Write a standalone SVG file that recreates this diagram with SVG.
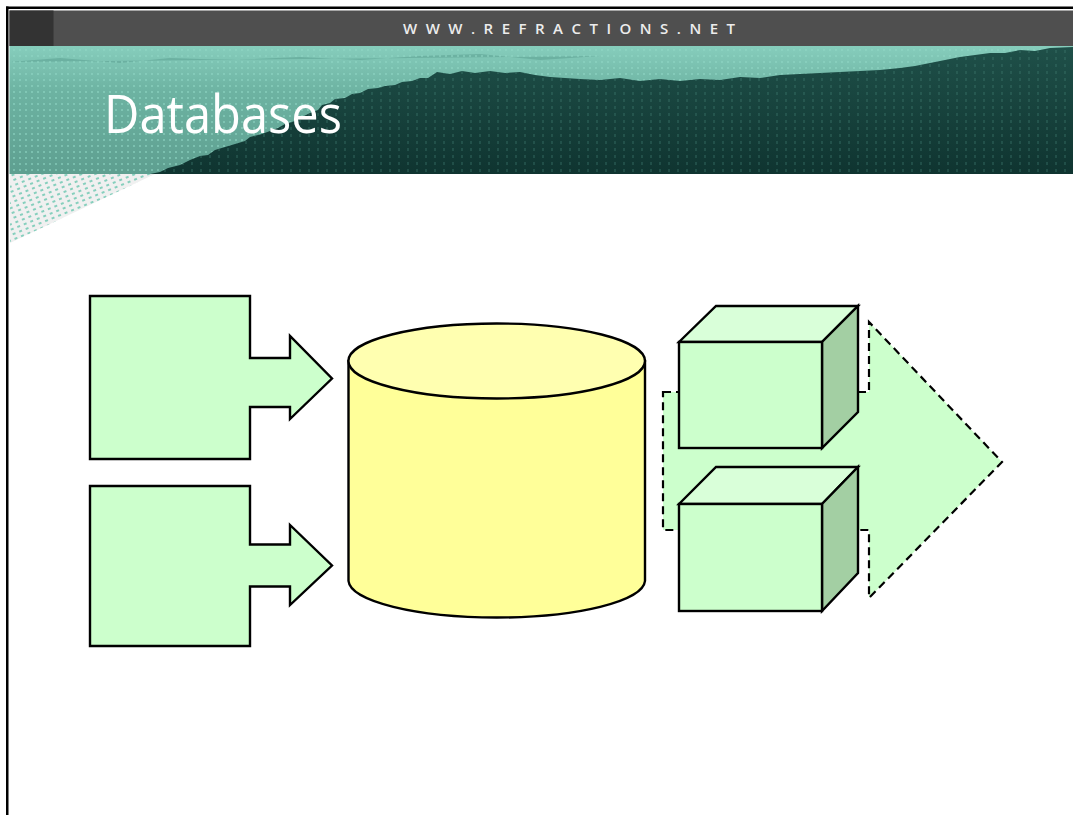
<svg xmlns="http://www.w3.org/2000/svg" width="1073" height="815" viewBox="0 0 1073 815">
<style>
.shape{stroke:#000;stroke-width:2.4;stroke-linejoin:miter}
.green{fill:#ccffcc}
.gtop{fill:#d9ffd9}
.gside{fill:#a3cfa3}
.dash{fill:#ccffcc;stroke:#000;stroke-width:2.2;stroke-dasharray:8 5}
.hdr{font-family:"Open Sans","DejaVu Sans",sans-serif;font-weight:600;fill:#ececec}
.title{font-family:"Open Sans","DejaVu Sans",sans-serif;fill:#ffffff}
</style>
<defs>
<linearGradient id="sky" x1="0" y1="0" x2="0" y2="1">
<stop offset="0" stop-color="#86cdbc"/>
<stop offset="0.35" stop-color="#6db3a2"/>
<stop offset="1" stop-color="#5e9f90"/>
</linearGradient>
<linearGradient id="forest" x1="0" y1="0" x2="0" y2="1">
<stop offset="0" stop-color="#1f5049"/>
<stop offset="1" stop-color="#0f3430"/>
</linearGradient>
<pattern id="dots" width="6" height="6" patternUnits="userSpaceOnUse">
<rect x="1" y="1" width="2" height="2" fill="#8fd6c4" opacity="0.55"/>
</pattern>
<pattern id="fdots" width="9" height="7" patternUnits="userSpaceOnUse">
<rect x="2" y="1" width="2" height="3" fill="#3f7a70" opacity="0.35"/>
</pattern>
<pattern id="dots2" width="7" height="5" patternUnits="userSpaceOnUse" patternTransform="rotate(-22)">
<rect x="1" y="1" width="3" height="2" fill="#86cfbd"/>
</pattern>
<clipPath id="tri"><polygon points="10,174 155,174 10,243"/></clipPath>
<polygon id="forestShape" points="150,174 160,172 168,168 180,165 190,160 200,156 208,155 215,150 225,147 235,144 245,141 250,137 262,134 270,131 278,128 285,124 295,121 300,118 310,113 318,110 322,105 330,103 335,99 345,98 352,94 360,93 368,89 378,88 385,86 395,85 402,82 412,81 420,78 428,78 437,72 450,74 462,71 475,73 490,71 505,73 520,72 535,75 550,77 565,78 580,79 600,80 620,78 640,81 660,79 680,81 700,79 720,80 740,77 760,78 780,75 800,74 820,73 840,72 860,71 880,70 900,68 915,66 930,63 945,60 960,57 975,55 990,53 1005,53 1020,50 1035,51 1050,48 1073,47 1073,174"/>
</defs>

<rect x="0" y="0" width="1073" height="815" fill="#ffffff"/>

<!-- frame -->
<rect x="6" y="6.5" width="1067" height="2.5" fill="#000"/>
<rect x="6" y="6.5" width="2.5" height="808.5" fill="#000"/>

<!-- header bar -->
<rect x="9.5" y="10.5" width="1063.5" height="35.5" fill="#4f4f4f"/>
<rect x="9.5" y="10.5" width="44" height="35.5" fill="#333333"/>
<text class="hdr" x="403" y="34" font-size="15" textLength="332" lengthAdjust="spacing">WWW.REFRACTIONS.NET</text>

<!-- banner -->
<rect x="9.5" y="46" width="1063.5" height="128" fill="url(#sky)"/>
<path d="M9.5,62 L60,58 120,63 170,58 230,60 300,57 360,60 420,56 480,54 540,60 600,56 Z" fill="#5fa494" opacity="0.6"/>
<rect x="9.5" y="46" width="1063.5" height="128" fill="url(#dots)"/>
<use href="#forestShape" fill="url(#forest)"/>
<use href="#forestShape" fill="url(#fdots)"/>

<!-- dithered corner -->
<polygon points="10,174 155,174 10,243" fill="#f0f0f0"/>
<rect x="10" y="174" width="150" height="70" fill="url(#dots2)" clip-path="url(#tri)"/>

<text class="title" x="104" y="133" font-size="53" textLength="238" lengthAdjust="spacingAndGlyphs">Databases</text>

<g id="connectors"></g>

<g id="source1">
<polygon class="shape green" points="90,296 250,296 250,358 290,358 290,336 332,378.5 290,419 290,407 250,407 250,459 90,459"/>
</g>
<g id="source2">
<polygon class="shape green" points="90,486 250,486 250,544.5 290,544.5 290,525 332,565.5 290,605 290,586.5 250,586.5 250,646 90,646"/>
</g>

<g id="database">
<path class="shape" fill="#ffff99" d="M348.5,361 L348.5,581 A148.3,37.5 0 0 0 645,581 L645,361 Z"/>
<ellipse class="shape" cx="496.7" cy="361" rx="148.3" ry="37.5" fill="#ffffb0"/>
</g>

<g id="output-arrow">
<polygon class="dash" points="663,392 869,392 869,322 1002,462 869,598 869,530 663,530"/>
</g>

<g id="cube1">
<polygon class="shape gtop" points="679,342 716,306 858,306 822,342"/>
<polygon class="shape gside" points="822,342 858,306 858,412 822,448"/>
<rect class="shape green" x="679" y="342" width="143" height="106"/>
</g>
<g id="cube2">
<polygon class="shape gtop" points="679,504 716,467 858,467 822,504"/>
<polygon class="shape gside" points="822,504 858,467 858,573 822,611"/>
<rect class="shape green" x="679" y="504" width="143" height="107"/>
</g>
</svg>
